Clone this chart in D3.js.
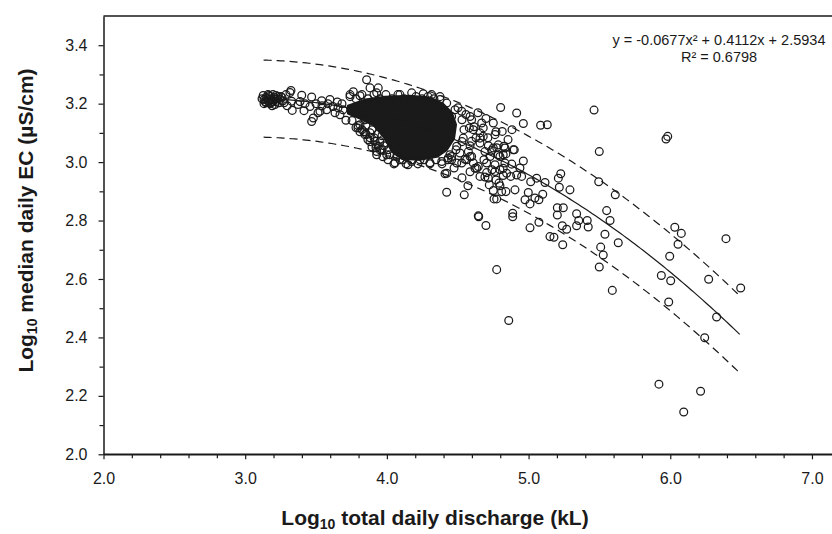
<!DOCTYPE html>
<html>
<head>
<meta charset="utf-8">
<script src="https://cdn.jsdelivr.net/npm/d3@7"></script>
<style>
  body { margin: 0; background: #fff; }
  svg { display: block; font-family: "Liberation Sans", Arial, sans-serif; }
</style>
</head>
<body>
<svg id="chart" width="832" height="534"></svg>
<script>
// axis ticks
const xTicks = [2.0, 3.0, 4.0, 5.0, 6.0, 7.0];
const xMinorTicks = [2.2, 2.4, 2.6, 2.8, 3.2, 3.4, 3.6, 3.8, 4.2, 4.4, 4.6, 4.8, 5.2, 5.4, 5.6, 5.8, 6.2, 6.4, 6.6, 6.8];
const yTicks = [2.0, 2.2, 2.4, 2.6, 2.8, 3.0, 3.2, 3.4];
const yMinorTicks = [2.1, 2.3, 2.5, 2.7, 2.9, 3.1, 3.3];

// regression from the chart's equation
const fitCoef = [-0.0677, 0.4112, 2.5934];
const fitRange = [3.13, 6.5];
const bandHalfWidth = 0.132; // dashed prediction lines
const equationLabel = "y = -0.0677x² + 0.4112x + 2.5934";
const r2Label = "R² = 0.6798";

// overplotted core of the cloud (solid black in the picture)
const denseCore = [
  [3.725, 3.193], [3.845, 3.214], [3.986, 3.224], [4.163, 3.227], [4.304, 3.221],
  [4.396, 3.200], [4.459, 3.169], [4.488, 3.128], [4.474, 3.080], [4.424, 3.042],
  [4.353, 3.018], [4.234, 3.008], [4.107, 3.011], [4.036, 3.035], [3.986, 3.080],
  [3.909, 3.125], [3.810, 3.149], [3.725, 3.166]
];

// low-flow clump on the left
const clumpPts = [
  [3.147, 3.221], [3.161, 3.210], [3.175, 3.224], [3.190, 3.214], [3.147, 3.203],
  [3.175, 3.200], [3.204, 3.221], [3.217, 3.207], [3.133, 3.214], [3.231, 3.224],
  [3.196, 3.231], [3.246, 3.214], [3.161, 3.231], [3.119, 3.217], [3.210, 3.197],
  [3.253, 3.224], [3.267, 3.210], [3.133, 3.200], [3.190, 3.193], [3.224, 3.217],
  [3.127, 3.228], [3.140, 3.207], [3.154, 3.217], [3.168, 3.207], [3.182, 3.217],
  [3.182, 3.203], [3.210, 3.214], [3.239, 3.203], [3.260, 3.221], [3.168, 3.228],
  [3.217, 3.228], [3.196, 3.207]
];

// circles around the core
const edgePts = [
  [3.288, 3.231], [3.316, 3.238], [3.323, 3.245], [3.399, 3.229], [3.469, 3.223],
  [3.328, 3.208], [3.332, 3.177], [3.415, 3.176], [3.469, 3.139], [3.481, 3.151],
  [3.540, 3.210], [3.598, 3.214], [3.650, 3.206], [3.528, 3.174], [3.575, 3.179],
  [3.711, 3.143], [3.740, 3.231], [3.763, 3.241], [3.810, 3.227], [3.857, 3.282],
  [3.881, 3.254], [3.939, 3.254], [3.928, 3.237], [3.796, 3.117], [3.810, 3.128],
  [3.881, 3.100], [3.916, 3.071], [3.928, 3.036], [3.939, 3.054], [3.999, 3.065],
  [3.999, 3.025], [3.928, 3.025], [4.022, 3.025], [4.069, 3.019], [4.114, 3.008],
  [4.175, 3.002], [4.234, 3.008], [4.387, 3.002], [4.445, 3.025], [4.457, 3.008],
  [4.493, 2.997], [4.422, 2.962], [4.493, 3.054], [4.539, 3.082], [4.582, 3.117],
  [4.092, 3.231], [4.175, 3.237], [4.257, 3.234], [4.316, 3.231], [4.375, 3.214],
  [4.422, 3.202], [4.481, 3.179], [4.528, 3.174], [4.587, 3.156], [4.457, 3.156],
  [4.598, 3.145], [4.669, 3.134], [4.751, 3.134], [4.657, 3.100], [4.657, 3.065],
  [4.692, 3.036], [4.751, 3.048], [4.786, 3.059], [4.833, 3.048], [4.892, 3.042],
  [4.821, 3.025], [4.728, 3.019], [4.704, 2.997], [4.763, 2.991], [4.798, 2.974],
  [4.845, 2.962], [4.622, 2.979], [4.657, 2.951], [4.716, 2.945], [4.563, 3.008],
  [4.598, 3.019], [4.516, 3.031], [4.433, 3.014], [4.528, 2.997],
  [3.373, 3.197], [3.422, 3.200], [3.457, 3.190], [3.500, 3.200], [3.542, 3.193],
  [3.584, 3.200], [3.620, 3.190], [3.655, 3.186], [3.683, 3.200], [3.514, 3.169],
  [3.634, 3.169], [3.669, 3.162], [3.690, 3.179], [3.387, 3.207], [3.274, 3.203],
  [3.296, 3.193],
  [3.845, 3.094], [3.866, 3.077], [3.895, 3.052], [3.951, 3.042], [3.972, 3.018],
  [4.057, 2.998], [4.149, 2.991], [4.304, 2.998], [3.845, 3.145], [3.824, 3.111],
  [4.680, 3.117], [4.775, 3.049], [4.657, 3.082], [4.610, 3.111], [4.598, 3.071],
  [4.575, 3.036], [4.551, 3.010], [4.457, 3.019], [4.645, 2.985], [4.798, 3.019],
  [4.833, 2.997],
  // top rim of the core
  [3.740, 3.224], [3.782, 3.217], [3.824, 3.231], [3.867, 3.217], [3.909, 3.231],
  [3.951, 3.217], [3.993, 3.231], [4.036, 3.217], [4.078, 3.231], [4.121, 3.217],
  [4.205, 3.224], [4.248, 3.217], [4.290, 3.224], [4.332, 3.217], [4.375, 3.224],
  // bottom rim of the core
  [4.008, 3.008], [4.050, 2.994], [4.092, 3.008], [4.135, 2.994], [4.177, 3.008],
  [4.219, 2.994], [4.262, 3.008], [4.304, 2.994], [4.346, 3.008], [4.389, 2.994],
  [4.431, 3.008],
  // lower-left flank
  [3.754, 3.142], [3.796, 3.125], [3.838, 3.104], [3.881, 3.083], [3.923, 3.059],
  [3.965, 3.042], [3.852, 3.125], [3.895, 3.111], [3.937, 3.097], [3.852, 3.097],
  [3.909, 3.083], [3.951, 3.070], [3.881, 3.070], [3.923, 3.049], [3.979, 3.056],
  [3.965, 3.090], [4.008, 3.042], [3.810, 3.104], [3.782, 3.118],
  // right flank
  [4.502, 3.186], [4.530, 3.145], [4.544, 3.111], [4.530, 3.070], [4.488, 3.042],
  [4.558, 3.163], [4.615, 3.121], [4.643, 3.169], [4.699, 3.149], [4.629, 3.083],
  [4.587, 3.056], [4.713, 3.083], [4.770, 3.104], [4.855, 3.077], [4.883, 3.111],
  [4.685, 3.008], [4.742, 2.974], [4.587, 2.967], [4.530, 2.946], [4.474, 2.980],
  [4.572, 2.919], [4.798, 2.919], [4.904, 2.905], [4.939, 2.980]
];

// scattered points at higher discharge
const scatterPts = [
  [4.763, 3.094], [4.814, 3.105], [4.680, 3.088], [4.826, 3.054], [4.899, 3.042],
  [4.963, 3.004], [4.840, 3.028], [4.786, 3.025], [4.739, 3.040], [4.716, 3.056],
  [4.881, 2.993], [4.821, 2.979], [4.763, 2.968], [4.704, 2.964], [4.634, 2.979],
  [4.587, 3.019], [4.610, 2.997], [4.916, 2.956], [4.951, 2.951], [4.874, 2.951],
  [4.821, 2.954], [4.770, 2.939], [4.692, 2.949], [4.723, 2.922], [4.791, 2.928],
  [4.751, 2.903], [4.810, 2.899], [4.840, 2.899], [4.756, 2.874], [4.775, 2.874],
  [4.648, 2.813], [4.699, 2.783], [4.888, 2.825], [4.888, 2.813], [5.015, 2.933],
  [5.057, 2.945], [5.116, 2.930], [5.210, 2.945], [5.227, 2.960], [5.217, 2.914],
  [5.292, 2.905], [4.998, 2.896], [5.100, 2.890], [4.975, 2.871], [5.045, 2.877],
  [5.010, 2.857], [5.073, 2.871], [5.203, 2.844], [5.245, 2.844], [5.203, 2.819],
  [5.339, 2.823], [5.414, 2.800], [5.354, 2.800], [5.339, 2.782], [5.421, 2.778],
  [5.238, 2.782], [5.269, 2.770], [5.010, 2.775], [5.073, 2.794], [5.151, 2.745],
  [5.179, 2.743], [5.241, 2.717], [5.499, 3.036], [5.495, 2.933], [5.612, 2.888],
  [5.551, 2.834], [5.575, 2.800], [5.539, 2.753], [5.509, 2.709], [5.527, 2.682],
  [5.633, 2.724], [5.462, 3.178], [4.916, 3.168], [4.963, 3.132], [5.085, 3.126],
  [5.132, 3.128], [5.970, 3.079], [5.982, 3.088], [4.775, 2.632], [4.860, 2.458],
  [5.499, 2.641], [5.591, 2.561], [5.937, 2.612], [6.003, 2.594], [6.271, 2.599],
  [6.497, 2.569], [5.989, 2.521], [6.327, 2.470], [6.243, 2.399], [5.920, 2.240],
  [6.214, 2.216], [6.095, 2.145], [6.032, 2.777], [6.078, 2.756], [6.055, 2.719],
  [5.996, 2.678], [6.393, 2.738], [4.803, 3.187], [4.410, 2.960], [4.422, 2.897],
  [4.546, 2.888], [4.645, 2.816]
];

const W = 832, H = 534;
const svg = d3.select("#chart");
const ink = "#1a1a1a";

const x = d3.scaleLinear().domain([2, 7.2]).range([103.5, 840.3]);
const y = d3.scaleLinear().domain([2, 3.5]).range([454.3, 16]);

// top frame line
svg.append("line")
  .attr("x1", x(2)).attr("x2", W)
  .attr("y1", y(3.5)).attr("y2", y(3.5))
  .attr("stroke", ink).attr("stroke-width", 1.5);

// dense core area
svg.append("path")
  .datum(denseCore)
  .attr("d", d3.line().x(d => x(d[0])).y(d => y(d[1])).curve(d3.curveLinearClosed))
  .attr("fill", ink)
  .attr("stroke", ink)
  .attr("stroke-width", 2)
  .attr("stroke-linejoin", "round");

// points
const allPts = clumpPts.concat(edgePts, scatterPts);
svg.append("g")
  .selectAll("circle")
  .data(allPts)
  .join("circle")
  .attr("cx", d => x(d[0]))
  .attr("cy", d => y(d[1]))
  .attr("r", 3.9)
  .attr("fill", "none")
  .attr("stroke", ink)
  .attr("stroke-width", 1.25);

// fit + prediction lines
const poly = v => fitCoef[0] * v * v + fitCoef[1] * v + fitCoef[2];
const fitXs = d3.range(fitRange[0], fitRange[1] + 1e-9, 0.02);
const lineGen = off => d3.line()
  .x(v => x(v))
  .y(v => y(poly(v) + off));

svg.append("path").datum(fitXs)
  .attr("d", lineGen(0))
  .attr("fill", "none").attr("stroke", ink).attr("stroke-width", 1.2);

[bandHalfWidth, -bandHalfWidth].forEach(off => {
  svg.append("path").datum(fitXs)
    .attr("d", lineGen(off))
    .attr("fill", "none").attr("stroke", ink).attr("stroke-width", 1.2)
    .attr("stroke-dasharray", "8,5");
});

// axes
const fmt = d3.format(".1f");
svg.append("g")
  .attr("transform", `translate(0,${y(2)})`)
  .call(d3.axisBottom(x).tickValues(xTicks).tickFormat(fmt).tickSize(5).tickSizeOuter(0).tickPadding(13));
svg.append("g")
  .attr("transform", `translate(0,${y(2)})`)
  .call(d3.axisBottom(x).tickValues(xMinorTicks).tickFormat("").tickSize(4).tickSizeOuter(0))
  .call(g => g.select(".domain").remove());
svg.append("line")
  .attr("x1", x(2)).attr("x2", W)
  .attr("y1", y(2)).attr("y2", y(2))
  .attr("stroke", ink).attr("stroke-width", 1.5);

svg.append("g")
  .attr("transform", `translate(${x(2)},0)`)
  .call(d3.axisLeft(y).tickValues(yTicks).tickFormat(fmt).tickSize(5).tickSizeOuter(0).tickPadding(11));
svg.append("g")
  .attr("transform", `translate(${x(2)},0)`)
  .call(d3.axisLeft(y).tickValues(yMinorTicks).tickFormat("").tickSize(4).tickSizeOuter(0))
  .call(g => g.select(".domain").remove());

svg.selectAll(".domain").attr("stroke", ink).attr("stroke-width", 1.5);
svg.selectAll(".tick line").attr("stroke", ink).attr("stroke-width", 1.2);
svg.selectAll(".tick text")
  .attr("fill", ink)
  .style("font-family", "'Liberation Sans', Arial, sans-serif")
  .style("font-size", "16px");

// equation
svg.append("text")
  .attr("x", 719).attr("y", 45)
  .attr("text-anchor", "middle")
  .attr("fill", ink)
  .style("font-size", "14.5px")
  .text(equationLabel);
svg.append("text")
  .attr("x", 719).attr("y", 61.5)
  .attr("text-anchor", "middle")
  .attr("fill", ink)
  .style("font-size", "14.5px")
  .text(r2Label);

// axis titles
const xTitle = svg.append("text")
  .attr("x", 435).attr("y", 525)
  .attr("text-anchor", "middle")
  .attr("fill", ink)
  .style("font-size", "21px")
  .style("font-weight", "bold");
xTitle.append("tspan").text("Log");
xTitle.append("tspan").attr("dy", 4).style("font-size", "14px").text("10");
xTitle.append("tspan").attr("dy", -4).text(" total daily discharge (kL)");

const yTitle = svg.append("text")
  .attr("transform", `translate(32.5,220.5) rotate(-90)`)
  .attr("text-anchor", "middle")
  .attr("fill", ink)
  .style("font-size", "21px")
  .style("font-weight", "bold");
yTitle.append("tspan").text("Log");
yTitle.append("tspan").attr("dy", 4).style("font-size", "14px").text("10");
yTitle.append("tspan").attr("dy", -4).text(" median daily EC (µS/cm)");
</script>
</body>
</html>
